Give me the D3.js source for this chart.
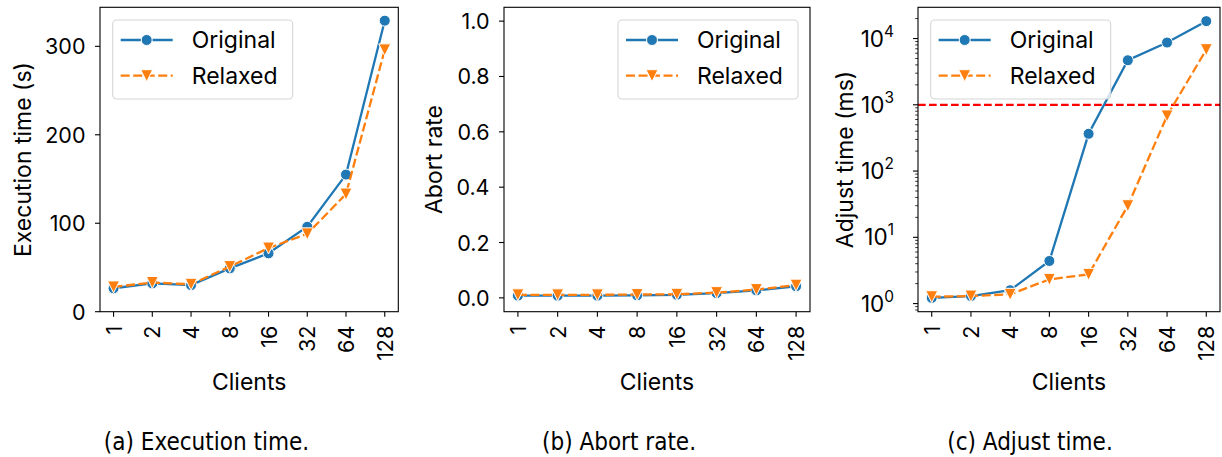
<!DOCTYPE html>
<html>
<head>
<meta charset="utf-8">
<script src="https://cdn.jsdelivr.net/npm/d3@7"></script>
<style>
  html, body { margin: 0; padding: 0; background: #fff; }
  svg { display: block; }
  text { font-family: Inter, "DejaVu Sans", sans-serif; fill: #000; }
  .caption { font-family: "Liberation Sans Narrow", "DejaVu Sans", sans-serif; font-stretch: condensed; }
</style>
</head>
<body>
<svg id="chart" width="1222" height="457"></svg>
<script>
// ---------- data ----------
const clients = ["1", "2", "4", "8", "16", "32", "64", "128"];
const seriesNames = ["Original", "Relaxed"];

const execOriginal = [26.5, 32, 30, 49, 66, 96, 155, 329];
const execRelaxed  = [28, 33, 31, 51, 72, 88, 133, 296];

const abortOriginal = [0.008, 0.008, 0.008, 0.009, 0.011, 0.017, 0.027, 0.042];
const abortRelaxed  = [0.011, 0.011, 0.011, 0.012, 0.013, 0.019, 0.030, 0.046];

const adjustOriginal = [1.22, 1.30, 1.59, 4.4, 365, 4700, 8700, 18300];
const adjustRelaxed  = [1.27, 1.30, 1.38, 2.32, 2.76, 30, 680, 6800];

const execTicks = [0, 100, 200, 300];
const abortTicks = [0, 0.2, 0.4, 0.6, 0.8, 1.0];
const adjustTicks = [1, 10, 100, 1000, 10000];
const adjustThreshold = 1000;

const xLabel = "Clients";
const yLabels = ["Execution time (s)", "Abort rate", "Adjust time (ms)"];
const captions = ["(a) Execution time.", "(b) Abort rate.", "(c) Adjust time."];

// ---------- styling / layout ----------
const colors = ["#1f77b4", "#ff7f0e"];
const svg = d3.select("#chart");
const TICK_FS = 21.5, LABEL_FS = 23, LEGEND_FS = 23;
const TICK_LEN = 5, MINOR_LEN = 2.8;
const LW = 2.3;

const panels = [
  {left: 100, right: 398.3, top: 7.3, bottom: 311.7, ylabelX: 23, legend: "left",
   series: [execOriginal, execRelaxed], type: "linear0", ticks: execTicks,
   fmt: d => d3.format("d")(d), caption: captions[0], capX: 206.5, ylabel: yLabels[0]},
  {left: 504, right: 810, top: 7.3, bottom: 311.7, ylabelX: 434, legend: "right",
   series: [abortOriginal, abortRelaxed], type: "fixed", domain: [-0.05, 1.05], ticks: abortTicks,
   fmt: d => d3.format(".1f")(d), caption: captions[1], capX: 619, ylabel: yLabels[1]},
  {left: 918, right: 1220, top: 7.3, bottom: 311.7, ylabelX: 845, legend: "left",
   series: [adjustOriginal, adjustRelaxed], type: "log", ticks: adjustTicks,
   caption: captions[2], capX: 1030, ylabel: yLabels[2], hline: adjustThreshold}
];

function trianglePath(s) {
  const h = s / 2;
  return `M0,${h}L${-h},${-h}L${h},${-h}Z`;
}

function drawMarker(g, i, x, y) {
  if (i === 0) {
    g.append("circle").attr("cx", x).attr("cy", y).attr("r", 5.5)
      .attr("fill", colors[0]).attr("stroke", "#fff").attr("stroke-width", 1);
  } else {
    g.append("path").attr("d", trianglePath(12))
      .attr("transform", `translate(${x},${y})`)
      .attr("fill", colors[1]).attr("stroke", "#fff").attr("stroke-width", 1);
  }
}

panels.forEach(p => {
  const g = svg.append("g");
  const x = d3.scalePoint().domain(clients).range([p.left, p.right]).padding(0.35);
  const all = p.series.flat();
  let y;
  if (p.type === "linear0") {
    const mx = d3.max(all), mn = d3.min(all);
    y = d3.scaleLinear().domain([0, mx + 0.05 * (mx - mn)]).range([p.bottom, p.top]);
  } else if (p.type === "fixed") {
    y = d3.scaleLinear().domain(p.domain).range([p.bottom, p.top]);
  } else {
    const lmn = Math.log10(d3.min(all)), lmx = Math.log10(d3.max(all));
    const m = 0.05 * (lmx - lmn);
    y = d3.scaleLog().domain([Math.pow(10, lmn - m), Math.pow(10, lmx + m)]).range([p.bottom, p.top]);
  }

  // x ticks
  clients.forEach(c => {
    g.append("line").attr("x1", x(c)).attr("x2", x(c))
      .attr("y1", p.bottom).attr("y2", p.bottom + TICK_LEN)
      .attr("stroke", "#000").attr("stroke-width", 1.1);
    g.append("text").attr("transform", `translate(${x(c)},${p.bottom + 14}) rotate(-90)`)
      .attr("text-anchor", "end").attr("dominant-baseline", "central")
      .attr("font-size", TICK_FS).text(c);
  });

  // y ticks
  if (p.type === "log") {
    const [d0, d1] = y.domain();
    for (let e = Math.floor(Math.log10(d0)); e <= Math.ceil(Math.log10(d1)); e++) {
      for (let k = 2; k <= 9; k++) {
        const v = k * Math.pow(10, e);
        if (v < d0 || v > d1) continue;
        g.append("line").attr("x1", p.left - MINOR_LEN).attr("x2", p.left)
          .attr("y1", y(v)).attr("y2", y(v)).attr("stroke", "#000").attr("stroke-width", 0.8);
      }
    }
    p.ticks.forEach(t => {
      g.append("line").attr("x1", p.left - TICK_LEN).attr("x2", p.left)
        .attr("y1", y(t)).attr("y2", y(t)).attr("stroke", "#000").attr("stroke-width", 1.1);
      const tx = g.append("text").attr("x", p.left - 24).attr("y", y(t) + 8)
        .attr("text-anchor", "end").attr("font-size", TICK_FS + 1);
      tx.append("tspan").attr("font-stretch", "condensed").text("10");
      tx.append("tspan").attr("dy", -10).attr("font-size", TICK_FS * 0.72).text(Math.round(Math.log10(t)));
    });
  } else {
    p.ticks.forEach(t => {
      g.append("line").attr("x1", p.left - TICK_LEN).attr("x2", p.left)
        .attr("y1", y(t)).attr("y2", y(t)).attr("stroke", "#000").attr("stroke-width", 1.1);
      g.append("text").attr("x", p.left - 14.5).attr("y", y(t))
        .attr("text-anchor", "end").attr("dominant-baseline", "central")
        .attr("font-size", TICK_FS).text(p.fmt(t));
    });
  }

  // clip
  const clipId = "clip" + p.left;
  svg.append("clipPath").attr("id", clipId).append("rect")
    .attr("x", p.left).attr("y", p.top).attr("width", p.right - p.left).attr("height", p.bottom - p.top);
  const plot = g.append("g").attr("clip-path", `url(#${clipId})`);

  if (p.hline) {
    plot.append("line").attr("x1", p.left).attr("x2", p.right)
      .attr("y1", y(p.hline)).attr("y2", y(p.hline))
      .attr("stroke", "#ff0000").attr("stroke-width", 2.2).attr("stroke-dasharray", "7.7,3.3");
  }

  p.series.forEach((vals, i) => {
    const line = d3.line().x((d, j) => x(clients[j])).y(d => y(d));
    plot.append("path").attr("d", line(vals)).attr("fill", "none")
      .attr("stroke", colors[i]).attr("stroke-width", LW)
      .attr("stroke-dasharray", i === 1 ? "9,3.5" : null);
    vals.forEach((v, j) => drawMarker(plot, i, x(clients[j]), y(v)));
  });

  // frame
  g.append("rect").attr("x", p.left).attr("y", p.top)
    .attr("width", p.right - p.left).attr("height", p.bottom - p.top)
    .attr("fill", "none").attr("stroke", "#000").attr("stroke-width", 1.1);

  // axis labels
  g.append("text").attr("x", (p.left + p.right) / 2).attr("y", 390)
    .attr("text-anchor", "middle").attr("font-size", LABEL_FS).text(xLabel);
  g.append("text").attr("transform", `translate(${p.ylabelX},${(p.top + p.bottom) / 2}) rotate(-90)`)
    .attr("text-anchor", "middle").attr("dominant-baseline", "central")
    .attr("font-size", LABEL_FS).text(p.ylabel);

  // legend
  const lw = 180, lh = 79;
  const lx = p.legend === "left" ? p.left + 12.7 : p.right - 12 - lw;
  const ly = p.top + 12.7;
  const lg = g.append("g");
  lg.append("rect").attr("x", lx).attr("y", ly).attr("width", lw).attr("height", lh)
    .attr("rx", 4).attr("fill", "rgba(255,255,255,0.8)").attr("stroke", "#d6d6d6").attr("stroke-width", 1.1);
  seriesNames.forEach((nm, i) => {
    const ry = ly + 20 + i * 35.7;
    lg.append("line").attr("x1", lx + 8).attr("x2", lx + 60).attr("y1", ry).attr("y2", ry)
      .attr("stroke", colors[i]).attr("stroke-width", LW)
      .attr("stroke-dasharray", i === 1 ? "9,3.5" : null);
    drawMarker(lg, i, lx + 34, ry);
    lg.append("text").attr("x", lx + 79).attr("y", ry).attr("dominant-baseline", "central")
      .attr("font-size", LEGEND_FS).text(nm);
  });

  // caption
  svg.append("text").attr("class", "caption").attr("x", p.capX).attr("y", 450)
    .attr("text-anchor", "middle").attr("font-size", 24).text(p.caption);
});
</script>
</body>
</html>
